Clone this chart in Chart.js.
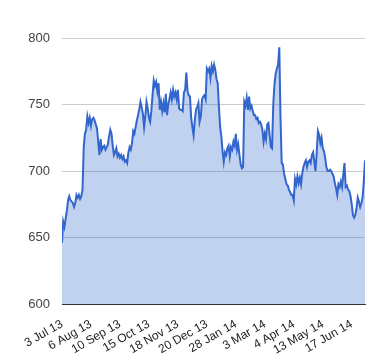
<!DOCTYPE html>
<html lang="en">
<head>
    <meta charset="UTF-8">
    <title>Price chart</title>
    <script src="https://cdn.jsdelivr.net/npm/chart.js@4.4.1/dist/chart.umd.min.js"></script>
    <style>
        * {
            margin: 0;
            padding: 0;
        }

        body {
            background-color: white;
            width: 380px;
            height: 360px;
            overflow: hidden;
        }

        canvas {
            display: block;
        }
    </style>
</head>
<body>
    <canvas id="priceChart" width="380" height="360"></canvas>

    <script>
        // labels shown on the x axis, one every labelStep trading days
        const tickLabels = ['3 Jul 13', '6 Aug 13', '10 Sep 13', '15 Oct 13', '18 Nov 13', '20 Dec 13',
            '28 Jan 14', '3 Mar 14', '4 Apr 14', '13 May 14', '17 Jun 14'];
        const labelStep = 24;

        const yMin = 600;
        const yMax = 800;
        const yStep = 50;

        // daily closes
        const values = [
            646, 662, 658, 664, 670, 678, 681, 678, 677, 676, 673, 676, 682, 680, 682, 679, 681, 686,
            718, 728, 731, 741, 736, 740, 734, 739, 740, 738, 735, 732, 722, 712, 724, 716, 718, 719, 716, 718, 720, 726,
            731, 728, 719, 712, 714, 717, 711, 713, 710, 712, 709, 711, 707, 708, 706, 714, 718, 716, 721, 730,
            728, 733, 738, 742, 746, 752, 748, 743, 733, 741, 752, 747, 740, 737, 745, 757, 768, 764, 767, 760,
            766, 746, 752, 745, 751, 744, 758, 742, 750, 754, 759, 754, 761, 756, 759, 754, 761, 747, 746, 746,
            745, 759, 761, 774, 760, 757, 756, 740, 733, 727, 738, 746, 748, 751, 737, 741, 754, 756, 757, 754,
            777, 775, 777, 770, 779, 775, 780, 776, 769, 766,
            748, 733, 726, 715, 707, 714, 712, 717, 719, 711, 718, 716, 722, 719, 728, 716, 720, 712, 705, 702,
            703, 752, 749, 755, 746, 756, 747, 749, 745, 742, 742, 739, 740, 736, 737, 735, 731, 722, 728, 724,
            735, 736, 727, 718, 717, 750, 765, 773, 777, 780, 793, 740, 706, 705, 698, 694, 690, 689, 686, 684,
            682, 682, 678, 694, 690, 696, 691, 695, 690, 698, 703, 706, 708, 703, 707, 708, 706, 712, 714, 707,
            700, 714, 730, 727, 721, 725, 717, 715, 710, 703, 700, 700, 701, 700, 698, 696, 691, 687, 682, 690,
            688, 692, 688, 697, 706, 688, 689, 686, 685, 681, 675, 667, 665, 667, 672, 680, 677, 673, 676, 680,
            692, 708
        ];

        const points = values.map((v, i) => ({ x: i, y: v }));
        const family = 'Arial, "Liberation Sans", sans-serif';

        new Chart(document.getElementById('priceChart'), {
            type: 'line',
            data: {
                datasets: [{
                    data: points,
                    borderColor: '#3366cc',
                    borderWidth: 2,
                    backgroundColor: 'rgba(51, 102, 204, 0.3)',
                    fill: 'start',
                    pointRadius: 0,
                    tension: 0
                }]
            },
            options: {
                responsive: false,
                animation: false,
                devicePixelRatio: 1,
                layout: {
                    padding: { top: 38, right: 15, left: 0, bottom: 0 }
                },
                plugins: {
                    legend: { display: false },
                    tooltip: { enabled: false }
                },
                scales: {
                    x: {
                        type: 'linear',
                        min: 0,
                        max: values.length - 1,
                        afterBuildTicks: s => {
                            s.ticks = tickLabels.map((_, k) => ({ value: k * labelStep }));
                        },
                        afterFit: s => { s.height = 56; },
                        grid: { display: false },
                        border: { display: true, color: '#333', width: 1 },
                        ticks: {
                            autoSkip: false,
                            minRotation: 30,
                            maxRotation: 30,
                            padding: 5,
                            color: '#222',
                            font: { family: family, size: 12 },
                            callback: v => tickLabels[Math.round(v / labelStep)] || ''
                        }
                    },
                    y: {
                        min: yMin,
                        max: yMax,
                        afterFit: s => { s.width = 62; },
                        grid: { color: '#ccc', drawTicks: false },
                        border: { display: false },
                        ticks: {
                            stepSize: yStep,
                            padding: 12,
                            color: '#444',
                            font: { family: family, size: 13 }
                        }
                    }
                }
            }
        });
    </script>
</body>
</html>
